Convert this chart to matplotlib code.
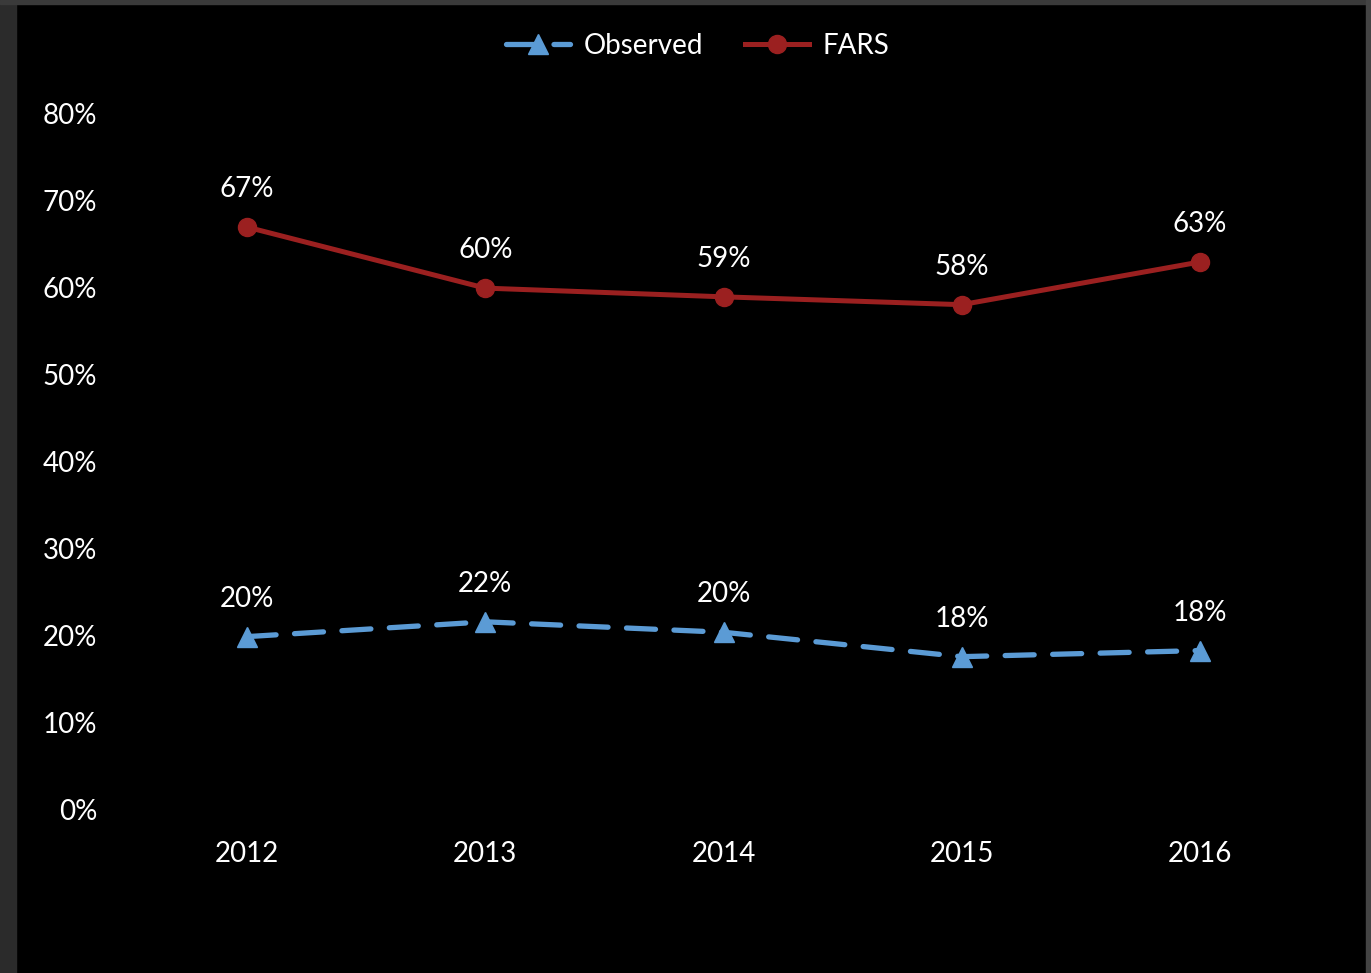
import matplotlib.pyplot as plt
from matplotlib.patches import Rectangle
from matplotlib.ticker import FuncFormatter

plt.rcParams['font.family'] = ['Lato', 'DejaVu Sans']

# data
years = ['2012', '2013', '2014', '2015', '2016']
observed = [19.9, 21.6, 20.4, 17.6, 18.3]
observed_labels = ['20%', '22%', '20%', '18%', '18%']
fars = [66.9, 59.9, 58.9, 58.0, 62.9]
fars_labels = ['67%', '60%', '59%', '58%', '63%']

blue = '#5B9BD5'
red = '#9B2020'

W, H = 1371, 973
fig = plt.figure(figsize=(W / 100, H / 100), dpi=100)
fig.patch.set_facecolor('black')

# grey window frame around the chart
fig.patches.append(Rectangle((0, 0), 16 / W, 1, transform=fig.transFigure, color='#2b2b2b', zorder=0))
fig.patches.append(Rectangle((0, 1 - 4 / H), 1, 4 / H, transform=fig.transFigure, color='#3a3a3a', zorder=0))
fig.patches.append(Rectangle((1 - 5 / W, 0), 5 / W, 1, transform=fig.transFigure, color='#444444', zorder=0))

ax = fig.add_axes([128 / W, 1 - 810 / H, (1319 - 128) / W, (810 - 113) / H])
ax.set_facecolor('black')

x = list(range(len(years)))
ax.plot(x, observed, color=blue, lw=3.8, ls=(0, (5.5, 3.5)), marker='^', ms=15,
        dash_capstyle='round', label='Observed', zorder=3)
ax.plot(x, fars, color=red, lw=3.6, marker='o', ms=13, label='FARS', zorder=3)

for xi, v, t in zip(x, observed, observed_labels):
    ax.annotate(t, (xi, v), xytext=(0, 18), textcoords='offset points', ha='center', va='bottom',
                color='white', fontsize=20)
for xi, v, t in zip(x, fars, fars_labels):
    ax.annotate(t, (xi, v), xytext=(0, 18), textcoords='offset points', ha='center', va='bottom',
                color='white', fontsize=20)

ax.set_xlim(-0.5, len(years) - 0.5)
ax.set_ylim(0, 80)
ax.set_yticks(range(0, 81, 10))
ax.yaxis.set_major_formatter(FuncFormatter(lambda v, p: f'{int(v)}%'))
ax.set_xticks(x)
ax.set_xticklabels(years)
ax.tick_params(colors='white', labelsize=20, length=0)
ax.tick_params(axis='y', pad=22)
ax.tick_params(axis='x', pad=22)
for s in ax.spines.values():
    s.set_visible(False)

leg = fig.legend(loc='center', bbox_to_anchor=(698 / W, 1 - 46 / H), ncol=2, frameon=False,
                 fontsize=20, labelcolor='white', handlelength=2.3, columnspacing=1.5,
                 handletextpad=0.5)

fig.savefig('out.png', dpi=100, facecolor=fig.get_facecolor())
